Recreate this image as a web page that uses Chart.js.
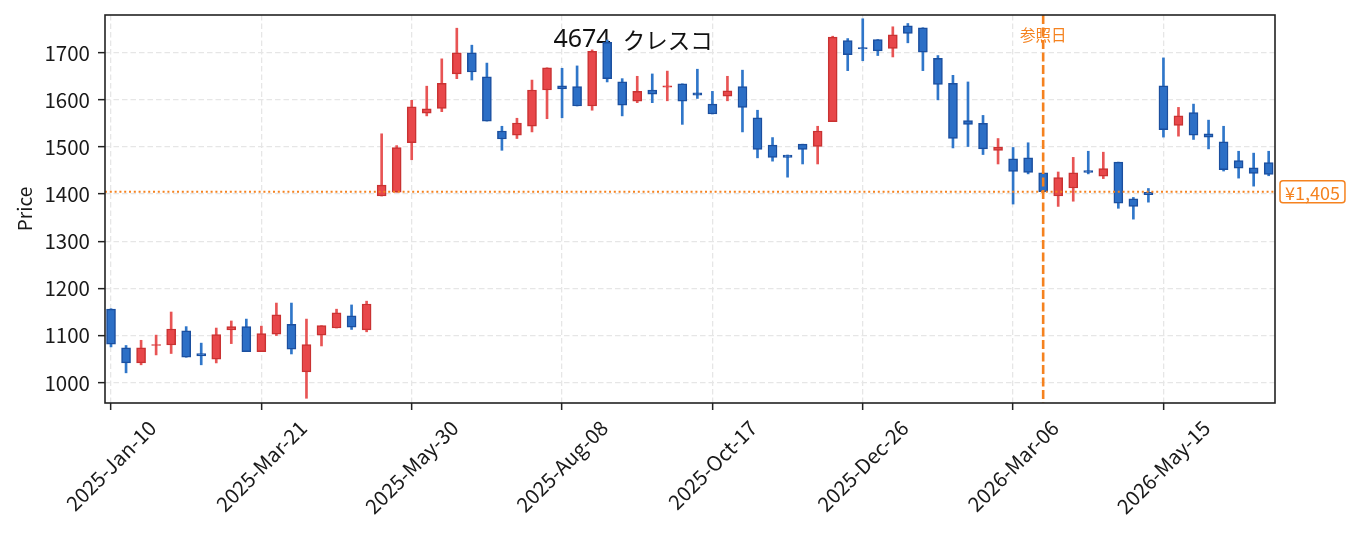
<!DOCTYPE html>
<html>
<head>
<meta charset="utf-8">
<title>4674 クレスコ</title>
<script src="https://cdn.jsdelivr.net/npm/chart.js@4.4.1/dist/chart.umd.min.js"></script>
<style>
  html, body { margin: 0; padding: 0; background: #fff; }
  #wrap { width: 1355px; height: 533px; position: relative; }
</style>
</head>
<body>
<div id="wrap"><canvas id="priceChart"></canvas></div>
<script>
// ==========================================================
// 1. DATA (weekly candles)
// ==========================================================
const chartTitle = '4674 クレスコ';
const openP  = [1156,1074,1042,1079,1080,1110,1062,1050,1112,1119,1066,1103,1124,1023,1101,1116,1142,1112,
                1396,1404,1509,1572,1582,1655,1700,1649,1534,1525,1544,1621,1630,1628,1587,1722,1638,1597,
                1621,1627,1634,1615,1591,1608,1628,1562,1504,1483,1506,1501,1554,1726,1711,1728,1709,1757,
                1753,1688,1635,1556,1550,1493,1475,1477,1445,1396,1413,1450,1438,1468,1390,1404,1630,1546,
                1573,1528,1511,1471,1456,1467];
const highP  = [1157,1079,1090,1101,1150,1119,1084,1116,1131,1135,1120,1169,1169,1135,1121,1156,1165,1173,
                1528,1503,1599,1629,1687,1752,1716,1678,1544,1561,1642,1668,1667,1672,1706,1727,1645,1650,
                1655,1661,1634,1665,1618,1650,1663,1578,1520,1483,1506,1544,1735,1730,1772,1728,1755,1762,
                1753,1694,1652,1638,1567,1518,1499,1509,1445,1447,1478,1491,1489,1468,1393,1412,1689,1584,
                1591,1557,1544,1491,1487,1491];
const lowP   = [1076,1021,1038,1059,1062,1054,1038,1042,1083,1066,1066,1100,1061, 967,1078,1116,1113,1108,
                1396,1404,1473,1566,1575,1645,1642,1555,1493,1518,1532,1560,1562,1587,1578,1638,1566,1594,
                1594,1598,1548,1603,1570,1598,1532,1477,1470,1436,1464,1464,1554,1662,1683,1694,1691,1721,
                1662,1600,1498,1501,1484,1464,1379,1443,1404,1374,1385,1443,1433,1370,1347,1383,1521,1523,
                1516,1496,1449,1434,1417,1439];
const closeP = [1082,1042,1074,1081,1114,1054,1057,1102,1119,1066,1104,1144,1071,1081,1121,1148,1118,1167,
                1419,1499,1585,1581,1635,1700,1659,1555,1517,1551,1621,1668,1623,1587,1703,1645,1589,1618,
                1612,1630,1597,1610,1570,1619,1584,1495,1478,1478,1495,1534,1733,1696,1708,1704,1738,1741,
                1701,1633,1518,1548,1496,1500,1448,1446,1405,1435,1445,1446,1454,1381,1374,1399,1537,1566,
                1525,1521,1452,1455,1444,1442];

// tick positions (week index) and their labels
const xTickPos    = [0, 10, 20, 30, 40, 50, 60, 70];
const xTickLabels = ['2025-Jan-10', '2025-Mar-21', '2025-May-30', '2025-Aug-08',
                     '2025-Oct-17', '2025-Dec-26', '2026-Mar-06', '2026-May-15'];
const yTicks      = [1000, 1100, 1200, 1300, 1400, 1500, 1600, 1700];

// reference date / price
const refIndex = 62;
const refPrice = 1405;
const refLabel = '参照日';
const refPriceLabel = '¥1,405';

// ==========================================================
// 2. STYLE
// ==========================================================
const FONT = "'Noto Sans CJK JP', 'Noto Sans', sans-serif";
const ORANGE = '#f5821f';
const UP_FILL = '#e8474a', UP_EDGE = '#c93232', UP_WICK = '#e85454';
const DN_FILL = '#2c6fc6', DN_EDGE = '#1b4f9f', DN_WICK = '#2f76c9';

const isUp = openP.map((o, i) => closeP[i] >= o);
const weekIdx = openP.map((_, i) => i);

const bodyData = weekIdx.map(i => ({ x: i, y: [Math.min(openP[i], closeP[i]), Math.max(openP[i], closeP[i])] }));
const wickData = weekIdx.map(i => ({ x: i, y: [lowP[i], highP[i]] }));

// ==========================================================
// 3. DECORATIONS: title, reference lines, frame, rotated date labels
// ==========================================================
const decorations = {
    id: 'decorations',
    beforeDatasetsDraw(chart) {
        const { ctx, chartArea: a } = chart;
        // code and name drawn as two runs so the gap looks like the original
        const [code, name] = chartTitle.split(' ');
        const cx = a.left + (a.right - a.left) * 0.451;
        const cy = a.top + 25;
        ctx.save();
        ctx.fillStyle = '#111';
        ctx.textBaseline = 'middle';
        ctx.font = `25px 'Noto Sans', ${FONT}`;
        ctx.textAlign = 'right';
        ctx.fillText(code, cx - 22, cy);
        ctx.font = `22.5px ${FONT}`;
        ctx.textAlign = 'left';
        ctx.fillText(name, cx - 10, cy);
        ctx.restore();
    },
    afterDatasetsDraw(chart) {
        const { ctx, chartArea: a, scales: { x, y } } = chart;
        ctx.save();

        // reference price, dotted
        const yRef = y.getPixelForValue(refPrice);
        ctx.strokeStyle = ORANGE;
        ctx.lineWidth = 2;
        ctx.setLineDash([2, 2.8]);
        ctx.beginPath();
        ctx.moveTo(a.left, yRef);
        ctx.lineTo(a.right, yRef);
        ctx.stroke();

        // reference date label + dashed line
        const xRef = x.getPixelForValue(refIndex);
        ctx.setLineDash([]);
        ctx.fillStyle = ORANGE;
        ctx.font = `15.5px ${FONT}`;
        ctx.textAlign = 'center';
        ctx.textBaseline = 'middle';
        ctx.fillText(refLabel, xRef, a.top + 20);

        ctx.lineWidth = 2.6;
        ctx.setLineDash([9, 3.5]);
        ctx.beginPath();
        ctx.moveTo(xRef, a.top);
        ctx.lineTo(xRef, a.bottom);
        ctx.stroke();

        // frame
        ctx.setLineDash([]);
        ctx.strokeStyle = '#222';
        ctx.lineWidth = 1.6;
        ctx.strokeRect(a.left, a.top, a.right - a.left, a.bottom - a.top);
        ctx.restore();
    },
    afterDraw(chart) {
        const { ctx, chartArea: a, scales: { x, y } } = chart;
        ctx.save();

        // date labels, rotated 45deg, box centred under the tick
        const fs = 20.5;
        ctx.font = `${fs}px ${FONT}`;
        ctx.fillStyle = '#1a1a1a';
        ctx.textAlign = 'center';
        ctx.textBaseline = 'middle';
        xTickPos.forEach((v, i) => {
            const px = x.getPixelForValue(v);
            const w = ctx.measureText(xTickLabels[i]).width;
            const cy = a.bottom + 14 + (w + fs) * Math.SQRT1_2 / 2;
            ctx.save();
            ctx.translate(px, cy);
            ctx.rotate(-Math.PI / 4);
            ctx.fillText(xTickLabels[i], 0, 0);
            ctx.restore();
        });

        // price tag at the right edge
        const yRef = y.getPixelForValue(refPrice);
        ctx.font = `18px ${FONT}`;
        const tw = ctx.measureText(refPriceLabel).width;
        const bx = a.right + 5, bw = tw + 10, bh = 22;
        ctx.fillStyle = '#fff';
        ctx.strokeStyle = ORANGE;
        ctx.lineWidth = 1.5;
        ctx.beginPath();
        ctx.roundRect(bx, yRef - bh / 2, bw, bh, 3);
        ctx.fill();
        ctx.stroke();
        ctx.fillStyle = ORANGE;
        ctx.textAlign = 'left';
        ctx.textBaseline = 'middle';
        ctx.fillText(refPriceLabel, bx + 5, yRef + 1);
        ctx.restore();
    }
};

// ==========================================================
// 4. CHART
// ==========================================================
const ctxPrice = document.getElementById('priceChart');
new Chart(ctxPrice, {
    type: 'bar',
    data: {
        datasets: [
            {
                label: 'body',
                data: bodyData,
                backgroundColor: isUp.map(u => u ? UP_FILL : DN_FILL),
                borderColor: isUp.map(u => u ? UP_EDGE : DN_EDGE),
                borderWidth: 1.5,
                borderSkipped: false,
                barThickness: 9,
                grouped: false,
                order: 0
            },
            {
                label: 'wick',
                data: wickData,
                backgroundColor: isUp.map(u => u ? UP_WICK : DN_WICK),
                borderWidth: 0,
                barThickness: 2,
                grouped: false,
                order: 1
            }
        ]
    },
    options: {
        responsive: true,
        maintainAspectRatio: false,
        animation: false,
        layout: { padding: { top: 15, right: 80, left: 0, bottom: 0 } },
        plugins: {
            legend: { display: false },
            tooltip: { enabled: false },
            title: { display: false }
        },
        scales: {
            x: {
                type: 'linear',
                min: -0.4,
                max: 77.42,
                offset: false,
                afterBuildTicks: s => { s.ticks = xTickPos.map(v => ({ value: v })); },
                afterFit: s => { s.height = 130; s.paddingLeft = 0; s.paddingRight = 0; },
                ticks: { display: false },
                grid: {
                    offset: false,
                    color: '#e6e6e6',
                    lineWidth: 1.3,
                    tickLength: 7,
                    tickColor: '#222',
                    tickWidth: 1.5,
                    tickBorderDash: []
                },
                border: { display: false, dash: [5.5, 3] }
            },
            y: {
                min: 957,
                max: 1780,
                afterBuildTicks: s => { s.ticks = yTicks.map(v => ({ value: v })); },
                afterFit: s => { s.width = 105; s.paddingTop = 0; s.paddingBottom = 0; },
                ticks: {
                    color: '#1a1a1a',
                    font: { family: FONT, size: 20.5 },
                    padding: 8,
                    callback: v => String(v)
                },
                grid: {
                    color: '#e6e6e6',
                    lineWidth: 1.3,
                    tickLength: 7,
                    tickColor: '#222',
                    tickWidth: 1.5,
                    tickBorderDash: []
                },
                border: { display: false, dash: [5.5, 3] },
                title: {
                    display: true,
                    text: 'Price',
                    color: '#1a1a1a',
                    font: { family: FONT, size: 19 },
                    padding: { top: 13, bottom: 0 }
                }
            }
        }
    },
    plugins: [decorations]
});
</script>
</body>
</html>
